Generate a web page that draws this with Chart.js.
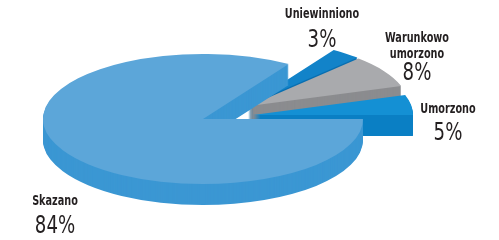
<!DOCTYPE html>
<html><head><meta charset="utf-8">
<script src="https://cdn.jsdelivr.net/npm/chart.js@4/dist/chart.umd.min.js"></script>
<style>html,body{margin:0;padding:0;background:#fff}canvas{display:block}</style>
</head><body>
<canvas id="c" width="499" height="240"></canvas>
<script>
// ---- data ----
const categories = ['Skazano', 'Uniewinniono', 'Warunkowo umorzono', 'Umorzono'];
const values = [84, 3, 8, 5];
const labelLines = [['Skazano'], ['Uniewinniono'], ['Warunkowo', 'umorzono'], ['Umorzono']];

// ---- style ----
const topColors  = ['#5ca6d9', '#1283c9', '#a9aaad', '#1490d4'];
const sideColors = ['#3b97d3', '#0a6fb0', '#8b8c8f', '#0a7fc4'];
const explode = [[0, 0], [45, -14], [46, -13], [50, -4]];
const drawOrder = [1, 2, 3, 0];
const TILT = 65 / 160, DEPTH = 21;
const labelLayout = [
  {x: 55,  y: 205, pctY: 233},
  {x: 322, y: 18,  pctY: 47},
  {x: 417, y: 42,  pctY: 80, lh: 16},
  {x: 448, y: 113, pctY: 140}
];
const NAME_FONT = 'bold 14px "DejaVu Sans Condensed", "DejaVu Sans", sans-serif';
const NAME_SX = 0.77;
const PCT_FONT = '24px "DejaVu Sans Condensed", "DejaVu Sans", sans-serif';
const PCT_SX = 0.84;

function stretchText(ctx, t, x, y, sx) {
  ctx.save();
  ctx.translate(x, y);
  ctx.scale(sx, 1);
  ctx.fillText(t, 0, 0);
  ctx.restore();
}

const pie3d = {
  id: 'pie3d',
  beforeDatasetsDraw(chart) {
    const ctx = chart.ctx;
    const arcs = chart.getDatasetMeta(0).data;
    drawOrder.forEach(i => {
      const el = arcs[i];
      const base = el.options;
      const cx = el.x, cy = el.y;
      const [dx, dy] = explode[i];
      for (let d = DEPTH; d >= 0; d--) {
        el.options = Object.create(base, {backgroundColor: {value: d === 0 ? topColors[i] : sideColors[i]}});
        ctx.save();
        ctx.translate(cx + dx, cy + dy + d);
        ctx.scale(1, TILT);
        ctx.translate(-cx, -cy);
        el.draw(ctx);
        ctx.restore();
      }
      el.options = base;
    });
    return false;
  },
  afterDraw(chart) {
    const ctx = chart.ctx;
    ctx.save();
    ctx.fillStyle = '#231f20';
    ctx.textAlign = 'center';
    ctx.textBaseline = 'alphabetic';
    values.forEach((v, i) => {
      const L = labelLayout[i];
      ctx.font = NAME_FONT;
      labelLines[i].forEach((t, k) => stretchText(ctx, t, L.x, L.y + k * (L.lh || 0), NAME_SX));
      ctx.font = PCT_FONT;
      stretchText(ctx, v + '%', L.x, L.pctY, PCT_SX);
    });
    ctx.restore();
  }
};

new Chart(document.getElementById('c'), {
  type: 'pie',
  data: {
    labels: categories,
    datasets: [{data: values, backgroundColor: topColors, borderWidth: 0}]
  },
  options: {
    responsive: false,
    animation: false,
    events: [],
    rotation: 90,
    radius: 160,
    layout: {padding: {left: 0, right: 93, top: 0, bottom: 2}},
    plugins: {legend: {display: false}, tooltip: {enabled: false}}
  },
  plugins: [pie3d]
});
</script>
</body></html>
